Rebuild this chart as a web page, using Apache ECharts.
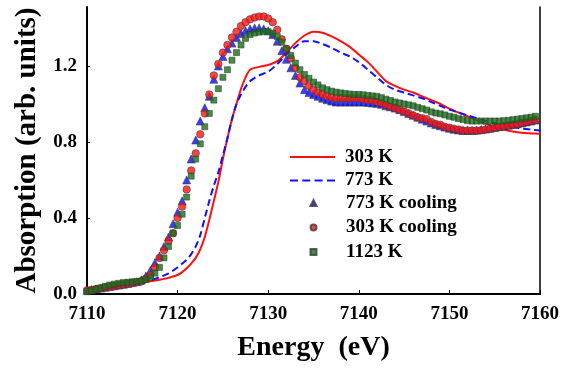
<!DOCTYPE html>
<html>
<head>
<meta charset="utf-8">
<script src="https://cdn.jsdelivr.net/npm/echarts@6/dist/echarts.min.js"></script>
<style>
  html, body { margin: 0; padding: 0; background: #fff; }
  #chart { width: 565px; height: 370px; }
</style>
</head>
<body>
<div id="chart"></div>
<script>
// energy grid of the solid / dashed curves (eV)
const lineE = [7110, 7111, 7112, 7113, 7114, 7115, 7116, 7117, 7118, 7119, 7120, 7120.5, 7121, 7121.5,
  7122, 7122.5, 7123, 7123.5, 7124, 7124.5, 7125, 7125.5, 7126, 7126.5, 7127, 7127.5, 7128, 7129, 7130,
  7131, 7132, 7133, 7134, 7135, 7136, 7137, 7138, 7139, 7140, 7141, 7142, 7143, 7144, 7145, 7146, 7147,
  7148, 7149, 7150, 7151, 7152, 7153, 7154, 7155, 7156, 7157, 7158, 7159, 7160];
const k303 = [0.02, 0.025, 0.03, 0.038, 0.046, 0.053, 0.06, 0.067, 0.075, 0.085, 0.10, 0.115, 0.135, 0.16,
  0.19, 0.235, 0.30, 0.39, 0.49, 0.59, 0.71, 0.82, 0.92, 1.00, 1.08, 1.14, 1.18, 1.195, 1.205,
  1.225, 1.27, 1.32, 1.36, 1.38, 1.375, 1.355, 1.33, 1.30, 1.26, 1.22, 1.17, 1.12, 1.095, 1.075, 1.06, 1.04,
  1.02, 1.00, 0.975, 0.955, 0.935, 0.915, 0.895, 0.88, 0.865, 0.855, 0.848, 0.845, 0.843];
const k773 = [0.02, 0.025, 0.031, 0.038, 0.046, 0.054, 0.062, 0.072, 0.088, 0.108, 0.14, 0.16, 0.18, 0.21,
  0.25, 0.31, 0.40, 0.49, 0.57, 0.64, 0.73, 0.82, 0.92, 1.00, 1.05, 1.09, 1.12, 1.15, 1.17,
  1.21, 1.26, 1.30, 1.33, 1.33, 1.315, 1.295, 1.27, 1.25, 1.22, 1.18, 1.14, 1.10, 1.075, 1.06, 1.045, 1.03,
  1.01, 0.99, 0.97, 0.955, 0.94, 0.925, 0.91, 0.90, 0.89, 0.88, 0.87, 0.865, 0.86];

// energy grid of the marker series (eV)
const dotE = [7110, 7110.5, 7111, 7111.5, 7112, 7112.5, 7113, 7113.5, 7114, 7114.5,
  7115, 7115.5, 7116, 7116.5, 7117, 7117.5, 7118, 7118.5, 7119, 7119.5,
  7120, 7120.5, 7121, 7121.5, 7122, 7122.5, 7123, 7123.5, 7124, 7124.5,
  7125, 7125.5, 7126, 7126.5, 7127, 7127.5, 7128, 7128.5, 7129, 7129.5,
  7130, 7130.5, 7131, 7131.5, 7132, 7132.5, 7133, 7133.5, 7134, 7134.5,
  7135, 7135.5, 7136, 7136.5, 7137, 7137.5, 7138, 7138.5, 7139, 7139.5,
  7140, 7140.5, 7141, 7141.5, 7142, 7142.5, 7143, 7143.5, 7144, 7144.5,
  7145, 7145.5, 7146, 7146.5, 7147, 7147.5, 7148, 7148.5, 7149, 7149.5,
  7150, 7150.5, 7151, 7151.5, 7152, 7152.5, 7153, 7153.5, 7154, 7154.5,
  7155, 7155.5, 7156, 7156.5, 7157, 7157.5, 7158, 7158.5, 7159, 7159.5];
const k773cool = [0.02, 0.023, 0.027, 0.031, 0.035, 0.039, 0.043, 0.047, 0.051, 0.055,
  0.06, 0.065, 0.075, 0.095, 0.125, 0.165, 0.20, 0.25, 0.30, 0.37,
  0.43, 0.49, 0.60, 0.71, 0.81, 0.91, 0.98, 1.04, 1.13, 1.20,
  1.25, 1.29, 1.32, 1.35, 1.37, 1.385, 1.395, 1.40, 1.40, 1.395,
  1.385, 1.365, 1.33, 1.28, 1.235, 1.19, 1.15, 1.11, 1.075, 1.06,
  1.05, 1.04, 1.03, 1.022, 1.015, 1.01, 1.01, 1.01, 1.01, 1.01,
  1.01, 1.01, 1.008, 1.005, 1.003, 0.998, 0.99, 0.985, 0.978, 0.97,
  0.96, 0.95, 0.94, 0.93, 0.92, 0.91, 0.90, 0.892, 0.885, 0.878,
  0.872, 0.867, 0.863, 0.86, 0.86, 0.86, 0.862, 0.865, 0.868, 0.872,
  0.876, 0.88, 0.884, 0.888, 0.892, 0.896, 0.90, 0.905, 0.91, 0.915];
const k303cool = [0.02, 0.022, 0.026, 0.03, 0.034, 0.038, 0.042, 0.046, 0.05, 0.054,
  0.058, 0.062, 0.066, 0.08, 0.10, 0.14, 0.19, 0.23, 0.28, 0.32,
  0.40, 0.46, 0.55, 0.65, 0.74, 0.84, 0.95, 1.05, 1.15, 1.21,
  1.27, 1.31, 1.35, 1.38, 1.41, 1.43, 1.445, 1.455, 1.46, 1.46,
  1.45, 1.43, 1.39, 1.34, 1.29, 1.24, 1.19, 1.14, 1.12, 1.095,
  1.075, 1.06, 1.05, 1.04, 1.035, 1.03, 1.03, 1.03, 1.03, 1.03,
  1.03, 1.025, 1.02, 1.02, 1.01, 1.005, 0.995, 0.985, 0.978, 0.97,
  0.96, 0.95, 0.94, 0.93, 0.925, 0.92, 0.905, 0.895, 0.89, 0.88,
  0.875, 0.87, 0.865, 0.86, 0.86, 0.86, 0.86, 0.862, 0.865, 0.87,
  0.875, 0.88, 0.883, 0.886, 0.89, 0.895, 0.90, 0.905, 0.91, 0.915];
const k1123 = [0.012, 0.018, 0.025, 0.032, 0.04, 0.047, 0.052, 0.056, 0.06, 0.062,
  0.064, 0.066, 0.069, 0.076, 0.087, 0.11, 0.14, 0.19, 0.25, 0.32,
  0.36, 0.42, 0.51, 0.62, 0.71, 0.79, 0.88, 0.95, 1.02, 1.08,
  1.14, 1.18, 1.23, 1.27, 1.31, 1.345, 1.365, 1.373, 1.378, 1.38,
  1.38, 1.372, 1.355, 1.325, 1.29, 1.255, 1.215, 1.18, 1.155, 1.135,
  1.115, 1.10, 1.085, 1.075, 1.067, 1.062, 1.058, 1.055, 1.052, 1.05,
  1.05, 1.048, 1.045, 1.042, 1.04, 1.033, 1.025, 1.018, 1.01, 1.005,
  1.0, 0.995, 0.99, 0.982, 0.975, 0.968, 0.958, 0.952, 0.948, 0.942,
  0.935, 0.93, 0.923, 0.918, 0.912, 0.91, 0.91, 0.91, 0.91, 0.91,
  0.91, 0.91, 0.912, 0.914, 0.917, 0.92, 0.923, 0.927, 0.93, 0.935];

const xTicks = { min: 7110, max: 7160, step: 10 };
const yTicks = { min: 0, max: 1.51, step: 0.4 };

const font = "'Liberation Serif', 'Times New Roman', serif";
const zip = (xs, ys) => xs.map((x, i) => [x, ys[i]]);

// legend glyphs: a plain bar for the solid line, four bars for the dashed one
const solidIcon = 'path://M0,0h45v2h-45z';
const dashIcon = 'path://M0,0h8v2h-8z M12.3,0h8v2h-8z M24.6,0h8v2h-8z M37,0h8v2h-8z';

const legendText = { fontFamily: font, fontWeight: 'bold', fontSize: 19, color: '#000', lineHeight: 20 };

const chart = echarts.init(document.getElementById('chart'));

const markerBorder = { borderColor: '#3a3a3a', borderWidth: 0.7 };

chart.setOption({
  animation: false,
  backgroundColor: '#fff',
  grid: { left: 87, right: 25, top: 7, bottom: 76 },
  legend: [
    {
      data: [
        { name: '303 K', icon: solidIcon },
        { name: '773 K', icon: dashIcon },
      ],
      orient: 'vertical',
      left: 290,
      top: 147,
      padding: 0,
      itemWidth: 45,
      itemHeight: 2,
      itemGap: 3.5,
      textStyle: { ...legendText, padding: [0, 0, 0, 5] },
    },
    {
      data: ['773 K cooling', '303 K cooling', '1123 K'],
      orient: 'vertical',
      left: 309.5,
      top: 193,
      padding: 0,
      itemWidth: 6,
      itemHeight: 6,
      itemGap: 4.5,
      textStyle: { ...legendText, padding: [0, 0, 0, 24.5] },
    },
  ],
  xAxis: [
    {
      type: 'value',
      min: xTicks.min,
      max: xTicks.max,
      interval: xTicks.step,
      name: 'Energy  (eV)',
      nameLocation: 'middle',
      nameGap: 40,
      nameTextStyle: { fontFamily: font, fontWeight: 'bold', fontSize: 28, color: '#000' },
      axisLine: { lineStyle: { color: '#000', width: 2 } },
      axisTick: { inside: true, length: 4, lineStyle: { color: '#000', width: 1 } },
      axisLabel: {
        fontFamily: font, fontWeight: 'bold', fontSize: 19, color: '#000', margin: 11,
        formatter: (v) => String(v),
      },
      splitLine: { show: false },
    },
    {
      type: 'value',
      position: 'top',
      min: xTicks.min,
      max: xTicks.max,
      axisLine: { show: true, lineStyle: { color: '#000', width: 2 } },
      axisTick: { show: false },
      axisLabel: { show: false },
      splitLine: { show: false },
    },
  ],
  yAxis: [
    {
      type: 'value',
      min: yTicks.min,
      max: yTicks.max,
      interval: yTicks.step,
      name: 'Absorption (arb. units)',
      nameLocation: 'middle',
      nameGap: 44,
      nameTextStyle: { fontFamily: font, fontWeight: 'bold', fontSize: 29, color: '#000' },
      axisLine: { show: true, lineStyle: { color: '#000', width: 2 } },
      axisTick: { inside: true, length: 3, lineStyle: { color: '#000', width: 1 } },
      axisLabel: {
        fontFamily: font, fontWeight: 'bold', fontSize: 19, color: '#000', margin: 10,
        showMaxLabel: false,
        formatter: (v) => v.toFixed(1),
      },
      splitLine: { show: false },
    },
    {
      type: 'value',
      position: 'right',
      min: yTicks.min,
      max: yTicks.max,
      axisLine: { show: true, lineStyle: { color: '#000', width: 1.5 } },
      axisTick: { show: false },
      axisLabel: { show: false },
      splitLine: { show: false },
    },
  ],
  series: [
    {
      name: '303 K',
      type: 'line',
      data: zip(lineE, k303),
      smooth: 0.3,
      showSymbol: false,
      symbol: 'none',
      lineStyle: { color: '#ff1010', width: 2 },
      itemStyle: { color: '#ff1010' },
      z: 3,
    },
    {
      name: '773 K',
      type: 'line',
      data: zip(lineE, k773),
      smooth: 0.3,
      showSymbol: false,
      symbol: 'none',
      lineStyle: { color: '#1010ff', width: 2, type: [7, 4] },
      itemStyle: { color: '#1010ff' },
      z: 3,
    },
    {
      name: '773 K cooling',
      type: 'scatter',
      data: zip(dotE, k773cool),
      symbol: 'triangle',
      symbolSize: 8,
      itemStyle: { color: '#0a0aff', ...markerBorder },
      z: 4,
    },
    {
      name: '303 K cooling',
      type: 'scatter',
      data: zip(dotE, k303cool),
      symbol: 'circle',
      symbolSize: 7.5,
      itemStyle: { color: '#ff1414', ...markerBorder },
      z: 5,
    },
    {
      name: '1123 K',
      type: 'scatter',
      data: zip(dotE, k1123),
      symbol: 'rect',
      symbolSize: 6,
      itemStyle: { color: '#177217', ...markerBorder },
      z: 6,
    },
  ],
});
</script>
</body>
</html>
